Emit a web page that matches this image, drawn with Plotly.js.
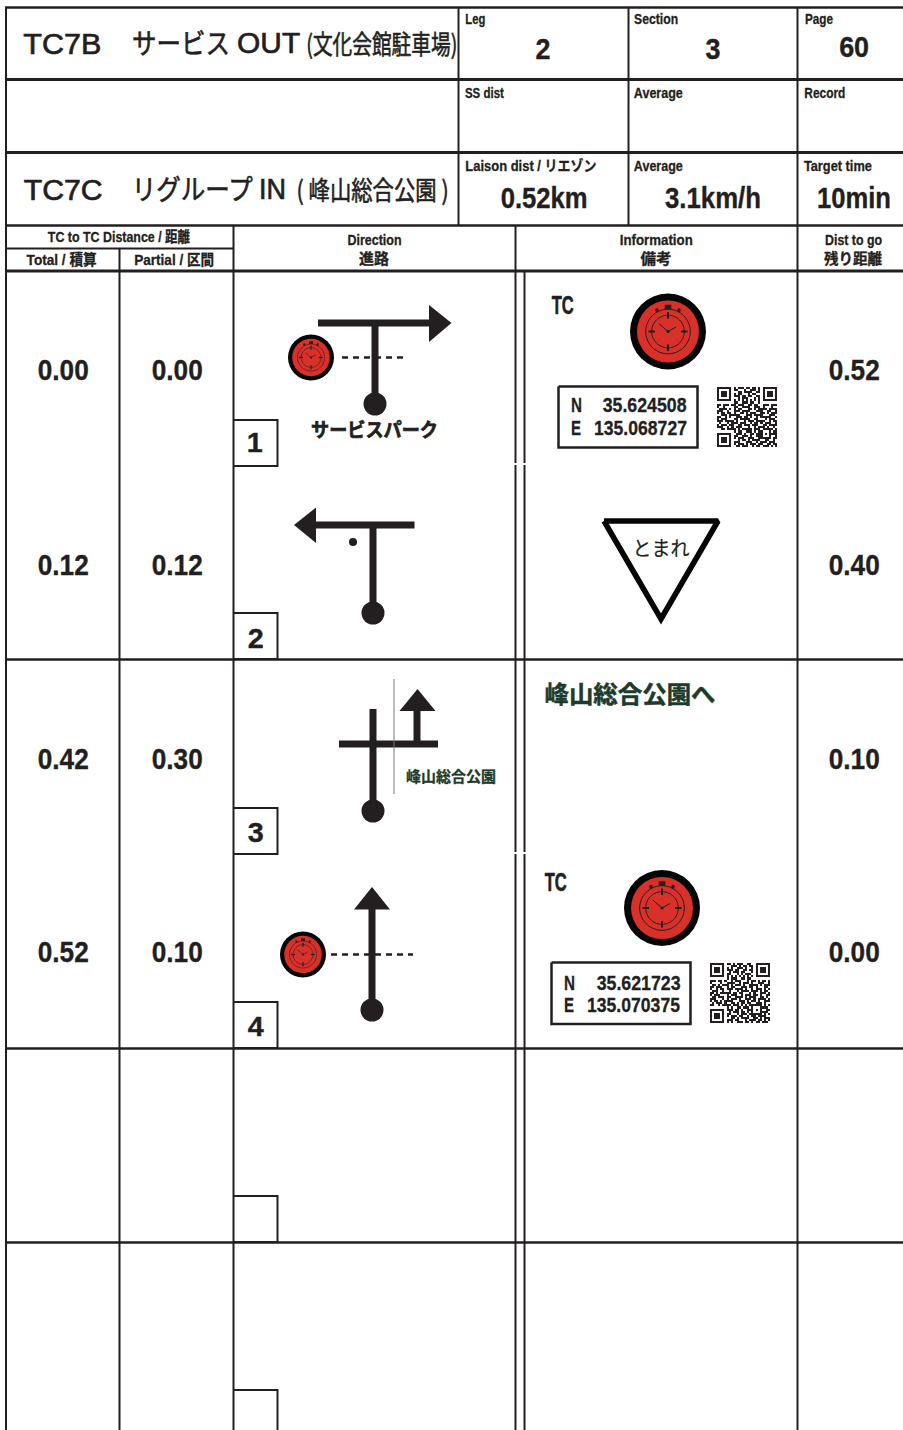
<!DOCTYPE html>
<html><head><meta charset="utf-8">
<script src="https://cdn.plot.ly/plotly-3.0.1.min.js"></script>
<style>html,body{margin:0;padding:0;background:#fff}#c{width:903px;height:1430px}</style></head>
<body><div id="c"></div>
<script>
// ---------- values ----------
const stageFrom = 'TC7B', stageFromName = 'サービス', stageFromKind = 'OUT', stageFromPlace = '(文化会館駐車場)';
const stageTo = 'TC7C', stageToName = 'リグループ', stageToKind = 'IN', stageToPlace = '( 峰山総合公園 )';
const leg = '2', section = '3', page = '60';
const laisonDist = '0.52km', averageSpeed = '3.1km/h', targetTime = '10min';
const rowNumbers = ['1', '2', '3', '4'];
const totalDist = [0.00, 0.12, 0.42, 0.52];
const partialDist = [0.00, 0.12, 0.30, 0.10];
const distToGo = [0.52, 0.40, 0.10, 0.00];
const coordsN = ['35.624508', '35.621723'];
const coordsE = ['135.068727', '135.070375'];
const signText = 'とまれ', serviceText = 'サービスパーク', destination = '峰山総合公園', destinationInfo = '峰山総合公園へ';

const qrA = [
"#######.#.###.##.##.#.#######",
"#.....#.##...#..###.#.#.....#",
"#.###.#...##.####..##.#.###.#",
"#.###.#.#.##...#.##...#.###.#",
"#.###.#.###.##.##..##.#.###.#",
"#.....#...#.###...#.#.#.....#",
"#######.#.#.#.#.#.#.#.#######",
"........##..###.##..#........",
"##.###.##.###..##.##..###.###",
"#..#....##..####..###.#...#..",
".####.#.#.##...##.#.####.####",
"###..#..###.####...###..##..#",
"#.##.##.#..##.#.###..##.#.###",
"..###.#####...###.####...###.",
"##..#.#..###.##.#..#.#####..#",
"#.###...##.#####..##...#.###.",
"###.####.#...#.###.####..#.##",
".#...#.###.###..#.##.#.###..#",
"#.###.##..##.###.###..##.####",
"###..#.#.###...#..#.###.#..#.",
"..##.####.#.#####.###.#####.#",
"........#.##..###.#.##...#.##",
"#######..###.#..##.###.#.####",
"#.....#.##..###.#..###...#..#",
"#.###.#.#.###..###..######.##",
"#.###.#...#.##.#.####..##..#.",
"#.###.#.###...###..#.###.###.",
"#.....#.#.###.#.###.##..##.##",
"#######..##.###..#.##.###.#.#"];
const qrB = [
"#######.##.#.###..##..#######",
"#.....#...###.#.##.##.#.....#",
"#.###.#.#.#..###.#..#.#.###.#",
"#.###.#.###.##..##.##.#.###.#",
"#.###.#..#.###.##...#.#.###.#",
"#.....#.##...#.#.###..#.....#",
"#######.#.#.#.#.#.#.#.#######",
"........#.###..##.##.........",
"###.##.#..#.###...#.##.#.##.#",
"#....#..####..#.###.#..###..#",
".##.#.###.#.###.#..####.#.###",
"##.###..#.##...###.##.#...##.",
"#..#.##.###.####.#..#.###.#.#",
".###..#..#...#.####.###.#.##.",
"##.#.#####.##.##...#.#..###.#",
"#.###...#.###..#.###.##.#..##",
".##.###.##..####.#.###..##.#.",
"###...#.#.###.#..###.#.####.#",
"#.##.#.####...###.#.##.#..###",
".#.###.#..##.#.##.##..###.#..",
"##..#.####.###.#.#.######.#.#",
"........#.#..##.###.#...####.",
"#######.###.##.#..###.#.#..##",
"#.....#..#.###.##.#.#...####.",
"#.###.#.##...#.###.######.#.#",
"#.###.#.#.###.##..#.##.####..",
"#.###.#...##.#.####..##.#.###",
"#.....#.###.##...#.###.##.#.#",
"#######.#.#..###.##.#.##.###."];

// ---------- drawing geometry ----------
const INK = '#231f20', GREEN = '#1d3b2a', RED = '#d9302a';
const LATIN = '"Liberation Sans","Noto Sans CJK JP"';
const CJK = '"Noto Sans CJK JP","Liberation Sans"';
const rowY = [369.5, 564.5, 758.5, 951.5];
const traces = [];
function line(x, y, w, color, dash) {
  traces.push({type:'scatter', mode:'lines', x, y, hoverinfo:'skip', showlegend:false,
    line:{color:color||INK, width:w, dash:dash||'solid', simplify:false}});
}
function fillPoly(x, y, color) {
  traces.push({type:'scatter', mode:'lines', x, y, fill:'toself', fillcolor:color||INK,
    hoverinfo:'skip', showlegend:false, line:{width:0, color:color||INK}});
}
function dot(x, y, d, color, lw, lc) {
  traces.push({type:'scatter', mode:'markers', x:[x], y:[y], hoverinfo:'skip', showlegend:false,
    marker:{size:d, color:color||INK, line:{width:lw||0, color:lc||INK}}});
}
function arc(cx, cy, r) {
  const xs = [], ys = [];
  for (let i = 0; i <= 72; i++) { const t = i * Math.PI / 36; xs.push(cx + r * Math.cos(t)); ys.push(cy + r * Math.sin(t)); }
  return [xs, ys];
}
function clock(cx, cy, r) {
  const k = r / 38;
  dot(cx, cy, 2 * r, '#050505');
  dot(cx, cy, 2 * (r - 7 * k), RED);
  const thin = Math.max(0.55, 1 * k);
  let a = arc(cx, cy, 22.3 * k); line(a[0], a[1], thin);
  a = arc(cx, cy, 16.3 * k); line(a[0], a[1], thin);
  const tick = Math.max(1, 2 * k);
  line([cx, cx], [cy - 19.5 * k, cy - 13 * k], tick);
  line([cx, cx], [cy + 13 * k, cy + 19.5 * k], tick);
  line([cx - 19.5 * k, cx - 13 * k], [cy, cy], tick);
  line([cx + 13 * k, cx + 19.5 * k], [cy, cy], tick);
  line([cx - 9.3 * k, cx, cx + 8 * k], [cy - 8 * k, cy, cy - 4.5 * k], thin);
  line([cx - 3.3 * k, cx + 3.3 * k], [cy - 24.5 * k, cy - 24.5 * k], 4.5 * k);
  line([cx - 11.5 * k, cx - 10.5 * k], [cy - 23 * k, cy - 19.5 * k], 3 * k);
  line([cx + 11.5 * k, cx + 10.5 * k], [cy - 23 * k, cy - 19.5 * k], 3 * k);
  dot(cx, cy, 2 * k + 1, INK);
}
function qr(rows, x0, y0, size) {
  const n = rows.length;
  const z = rows.map(r => r.padEnd(n, '.').slice(0, n).split('').map(c => c === '#' ? 1 : 0));
  const d = size / n;
  traces.push({type:'heatmap', z, x0:x0 + d / 2, dx:d, y0:y0 + d / 2, dy:d, zmin:0, zmax:1, zsmooth:false,
    showscale:false, hoverinfo:'skip', colorscale:[[0,'#ffffff'],[1,INK]]});
}
function box(x0, x1, y0, y1, w, c) { line([x0, x1, x1, x0, x0], [y0, y0, y1, y1, y0], w, c); }

qr(qrA, 717, 387, 60);
qr(qrB, 710, 963, 60);

// table lines
line([5, 903], [7.5, 7.5], 2.5);
line([5, 903], [79.5, 79.5], 3);
line([5, 903], [152.5, 152.5], 3);
line([5, 903], [225.5, 225.5], 2.5);
line([5, 233], [248.5, 248.5], 2);
line([5, 903], [271, 271], 3);
line([5, 903], [659.5, 659.5], 2.5);
line([5, 903], [1048.5, 1048.5], 2.5);
line([5, 903], [1242.5, 1242.5], 2.5);
line([6, 6], [7, 1430], 2);
line([458.5, 458.5], [7, 225], 2);
line([628.5, 628.5], [7, 225], 2);
line([119.5, 119.5], [248, 1430], 2);
line([233.5, 233.5], [225, 1430], 2);
line([515.5, 515.5, null, 515.5, 515.5, null, 515.5, 515.5], [225, 463, null, 465, 852, null, 854, 1430], 2);
line([524.5, 524.5, null, 524.5, 524.5, null, 524.5, 524.5], [271, 463, null, 465, 852, null, 854, 1430], 2);
line([797.5, 797.5], [7, 1430], 2);

// number boxes
[[420, 466], [613, 659], [808, 854], [1002, 1048], [1196, 1242], [1390, 1436]].forEach(b => {
  line([233, 277.5, 277.5, 233], [b[0], b[0], b[1], b[1]], 2);
});

// instruction 1
line([318, 430], [323, 323], 7);
fillPoly([429, 451.5, 429, 429], [305, 323, 342, 305]);
line([375, 375], [323, 404], 7);
dot(375, 404, 23);
line([342, 407], [357.5, 357.5], 2.5, INK, '6px,5px');
clock(311, 357.5, 23);

// instruction 2
line([315, 414.5], [525, 525], 7);
fillPoly([316, 294, 316, 316], [507.5, 525, 543, 507.5]);
line([373, 373], [525, 613], 7);
dot(373, 613, 23);
dot(353, 542, 8);

// instruction 3
line([373, 373], [709, 811], 7);
line([339, 438], [744, 744], 7);
line([417, 417], [744, 710], 7);
fillPoly([399.5, 417.5, 435.5, 399.5], [711, 689, 711, 711]);
line([394, 394], [679, 794], 1, '#777777');
dot(373, 811, 23);

// instruction 4
line([372, 372], [909, 1010], 7);
fillPoly([354, 372, 390, 354], [909.5, 887, 909.5, 909.5]);
dot(372, 1010, 23);
line([331, 413], [954.5, 954.5], 2.5, INK, '6px,5px');
clock(303, 954.5, 23);

// information column
clock(668, 331.5, 38);
box(558.5, 697.5, 386.5, 447.5, 2.5);
line([604, 718, 661, 604], [521, 521, 619, 521], 5.5, '#050505');
clock(662, 908, 38);
box(551.5, 690.5, 962.5, 1024, 2.5);

// ---------- text ----------
const ann = [];
const widths = [];
const strokes = [];
function T(text, cx, cy, size, w, opts) {
  opts = opts || {};
  ann.push({text:opts.bold === false ? text : '<b>' + text + '</b>', x:cx, y:cy, xref:'x', yref:'y', xanchor:'center', yanchor:'middle',
    showarrow:false, borderpad:0, font:{family:opts.family||LATIN, size, color:opts.color||INK}});
  widths.push(w || 0);
  strokes.push(opts.stroke === undefined ? 0.35 : opts.stroke);
}
const headLatin = {bold:false, stroke:0.7};
const headCjk = {bold:false, stroke:0.6, family:CJK};
T(stageFrom, 62, 43, 30, 78, headLatin);
T(stageFromName, 180.5, 42, 28, 98, headCjk);
T(stageFromKind, 268.5, 43, 29, 63, headLatin);
T(stageFromPlace, 382, 42.5, 26, 151, headCjk);
T(stageTo, 62.5, 189, 30, 79, headLatin);
T(stageToName, 192, 188, 28, 121, headCjk);
T(stageToKind, 272.5, 189, 29, 27, headLatin);
T(stageToPlace, 372, 188.5, 26, 152, headCjk);

const small = {stroke:0.3};
T('Leg', 475, 18, 15, 20, small);
T('Section', 656, 18, 15, 44, small);
T('Page', 819, 18, 15, 28, small);
T('SS dist', 484.5, 92, 15, 39, small);
T('Average', 658.5, 92, 15, 49, small);
T('Record', 824.5, 92, 15, 41, small);
T('Laison dist / リエゾン', 530.5, 165, 15, 131, small);
T('Average', 658.5, 165.5, 15, 49, small);
T('Target time', 838, 165.5, 15, 68, small);
T(leg, 543, 48.5, 29, 15);
T(section, 713, 48.5, 29, 15);
T(page, 853.5, 46.5, 29, 30);
T(laisonDist, 543.5, 197.5, 29, 87);
T(averageSpeed, 713, 197.5, 29, 96);
T(targetTime, 854, 197.5, 29, 74);

T('TC to TC Distance / 距離', 119, 236.5, 15, 142, small);
T('Total / 積算', 61, 259.5, 15, 70, small);
T('Partial / 区間', 174, 259.5, 15, 80, small);
T('Direction', 374, 239.5, 15, 54, small);
T('進路', 374, 257, 15, 30, {family:CJK, stroke:0.3});
T('Information', 656, 239.5, 15, 73, small);
T('備考', 656, 257, 15, 31, {family:CJK, stroke:0.3});
T('Dist to go', 853.5, 239.5, 15, 57, small);
T('残り距離', 853.5, 257, 14.5, 58, {family:CJK, stroke:0.3});

rowY.forEach((y, i) => {
  T(totalDist[i].toFixed(2), 63, y, 29, 51);
  T(partialDist[i].toFixed(2), 177, y, 29, 51);
  T(distToGo[i].toFixed(2), 854, y, 29, 51);
});
[[254.5, 442.5], [256, 638.5], [256, 832.5], [256, 1026]].forEach((p, i) => T(rowNumbers[i], p[0], p[1], 28, 16));

T('TC', 562, 305, 25, 22, {stroke:0.6});
T('TC', 555, 882, 25, 22, {stroke:0.6});
T('N', 576, 404.5, 21, 11, small);
T(coordsN[0], 645, 404.5, 21, 84, small);
T('E', 576, 427.5, 21, 10, small);
T(coordsE[0], 640, 427.5, 21, 93, small);
T('N', 569, 982, 21, 11, small);
T(coordsN[1], 638, 982, 21, 84, small);
T('E', 569, 1004, 21, 10, small);
T(coordsE[1], 633, 1004, 21, 93, small);

T(serviceText, 374.5, 428, 19, 127, {family:CJK, stroke:0.7});
T(destination, 450.5, 775.5, 15, 90, {family:CJK, color:GREEN, stroke:0.3});
T(destinationInfo, 629.5, 692, 24, 171, {family:CJK, color:GREEN, stroke:0.5});
T(signText, 661, 547, 20, 57, {family:CJK, bold:false, stroke:0.2});

const layout = {
  width:903, height:1430, margin:{l:0, r:0, t:0, b:0, pad:0},
  paper_bgcolor:'#fff', plot_bgcolor:'#fff', showlegend:false,
  xaxis:{range:[0, 903], visible:false, fixedrange:true},
  yaxis:{range:[1430, 0], visible:false, fixedrange:true},
  annotations:ann
};
Plotly.newPlot('c', traces, layout, {displayModeBar:false, staticPlot:true}).then(() => {
  document.querySelectorAll('#c .annotation-text').forEach((el, i) => {
    if (widths[i]) { el.setAttribute('textLength', widths[i]); el.setAttribute('lengthAdjust', 'spacingAndGlyphs'); }
    if (strokes[i]) {
      el.style.stroke = ann[i].font.color;
      el.style.strokeWidth = strokes[i] + 'px';
    }
  });
});
</script>
</body></html>
